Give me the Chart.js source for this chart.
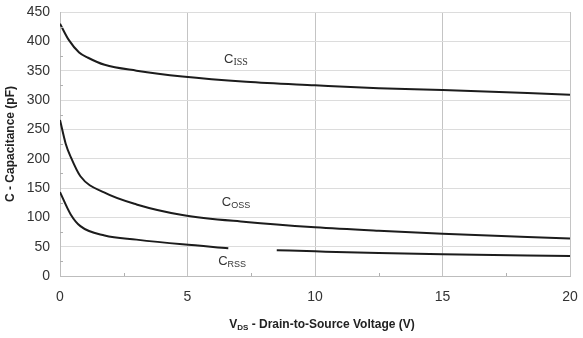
<!DOCTYPE html>
<html>
<head>
<meta charset="utf-8">
<script src="https://cdn.jsdelivr.net/npm/chart.js@4/dist/chart.umd.min.js"></script>
<style>
html,body{margin:0;padding:0;background:#fff;}
#wrap{width:583px;height:338px;position:relative;}
</style>
</head>
<body>
<div id="wrap"><canvas id="c" width="583" height="338"></canvas></div>
<script>
// Data
const cissX = [0, 0.35, 0.75, 1.1, 1.75, 3.0, 4.8, 7.3, 10, 12.5, 15, 20];
const cissY = [430, 402, 381, 372, 360, 350, 340, 331, 325, 320, 317, 309];
const cossX = [0, 0.22, 0.42, 0.8, 1.75, 3.0, 4.8, 7.3, 10, 12.5, 15, 20];
const cossY = [266, 226, 203, 170, 142, 122, 104, 92, 83, 77, 72, 64];
const crssX = [0, 0.42, 0.8, 1.75, 3.0, 4.8, 6.6, 7.5, 8.5, 10, 12.5, 15, 20];
const crssY = [143, 105, 85, 69, 62, 54, 47.5, null, 44, 42, 39, 37, 34];
const xTicks = [0, 5, 10, 15, 20];
const yTicks = [0, 50, 100, 150, 200, 250, 300, 350, 400, 450];
const curveLabels = [
  {main: 'C', sub: 'ISS', x: 6.9, y: 372, subFont: '10px "Liberation Serif"'},
  {main: 'C', sub: 'OSS', x: 6.9, y: 127, subFont: '9px "Liberation Sans"'},
  {main: 'C', sub: 'RSS', x: 6.75, y: 27, subFont: '9px "Liberation Sans"'}
];
const xTitleMain = 'V';
const xTitleSub = 'DS';
const xTitleRest = ' - Drain-to-Source Voltage (V)';
const yTitle = 'C - Capacitance (pF)';

const toPts = (xs, ys) => xs.map((x, i) => ({x: x, y: ys[i]}));

const lineStyle = {
  borderColor: '#1c1c1c', borderWidth: 2, pointRadius: 0,
  fill: false, cubicInterpolationMode: 'monotone', spanGaps: false
};

const overlay = {
  id: 'overlay',
  afterDraw(chart) {
    const ctx = chart.ctx;
    const xs = chart.scales.x, ys = chart.scales.y;
    const a = chart.chartArea;
    ctx.save();
    // minor tick marks inside plot
    ctx.strokeStyle = '#b0b0b0';
    ctx.lineWidth = 1;
    for (let v = 2.5; v < 20; v += 5) {
      const px = Math.round(xs.getPixelForValue(v)) + 0.5;
      ctx.beginPath(); ctx.moveTo(px, a.bottom); ctx.lineTo(px, a.bottom - 3); ctx.stroke();
    }
    for (let v = 25; v < 450; v += 50) {
      const py = Math.round(ys.getPixelForValue(v)) + 0.5;
      ctx.beginPath(); ctx.moveTo(a.left, py); ctx.lineTo(a.left + 3, py); ctx.stroke();
    }
    // curve labels
    ctx.fillStyle = '#333';
    ctx.textBaseline = 'alphabetic';
    curveLabels.forEach(l => {
      ctx.font = '13px "Liberation Sans"';
      const w1 = ctx.measureText(l.main).width;
      ctx.font = l.subFont;
      const w2 = ctx.measureText(l.sub).width;
      const cx = xs.getPixelForValue(l.x), cy = ys.getPixelForValue(l.y);
      const x0 = cx - (w1 + w2) / 2;
      ctx.font = '13px "Liberation Sans"';
      ctx.textAlign = 'left';
      ctx.fillText(l.main, x0, cy + 5);
      ctx.font = l.subFont;
      ctx.fillText(l.sub, x0 + w1, cy + 7);
    });
    // x axis title with subscript
    const fMain = 'bold 12px "Liberation Sans"';
    const fSub = 'bold 8px "Liberation Sans"';
    ctx.font = fMain; const wa = ctx.measureText(xTitleMain).width;
    ctx.font = fSub; const wb = ctx.measureText(xTitleSub).width;
    ctx.font = fMain; const wc = ctx.measureText(xTitleRest).width;
    const tx = (a.left + a.right) / 2 + 7 - (wa + wb + wc) / 2;
    const ty = 328;
    ctx.fillStyle = '#222';
    ctx.font = fMain; ctx.fillText(xTitleMain, tx, ty);
    ctx.font = fSub; ctx.fillText(xTitleSub, tx + wa, ty + 2);
    ctx.font = fMain; ctx.fillText(xTitleRest, tx + wa + wb, ty);
    ctx.restore();
  }
};

new Chart(document.getElementById('c'), {
  type: 'line',
  data: {
    datasets: [
      Object.assign({label: 'Ciss', data: toPts(cissX, cissY)}, lineStyle),
      Object.assign({label: 'Coss', data: toPts(cossX, cossY)}, lineStyle),
      Object.assign({label: 'Crss', data: toPts(crssX, crssY)}, lineStyle)
    ]
  },
  options: {
    responsive: false,
    animation: false,
    layout: {padding: {left: 3, right: 13, top: 12, bottom: 0}},
    plugins: {legend: {display: false}, tooltip: {enabled: false}},
    scales: {
      x: {
        type: 'linear', min: 0, max: 20,
        afterBuildTicks: s => { s.ticks = xTicks.map(v => ({value: v})); },
        afterFit: s => { s.height = 62; s.paddingLeft = 0; s.paddingRight = 0; },
        grid: {color: '#c4c4c4', drawTicks: false},
        border: {color: '#bdbdbd'},
        ticks: {padding: 13, color: '#333', font: {family: 'Liberation Sans', size: 14}}
      },
      y: {
        type: 'linear', min: 0, max: 450,
        afterBuildTicks: s => { s.ticks = yTicks.map(v => ({value: v})); },
        afterFit: s => { s.width = 57; s.paddingTop = 0; s.paddingBottom = 0; },
        grid: {color: '#dcdcdc', drawTicks: false},
        border: {color: '#bdbdbd'},
        ticks: {padding: 10, color: '#333', font: {family: 'Liberation Sans', size: 14}},
        title: {display: true, text: yTitle, color: '#222', padding: {top: 0, bottom: 4},
                font: {family: 'Liberation Sans', size: 12, weight: 'bold'}}
      }
    }
  },
  plugins: [overlay]
});
</script>
</body>
</html>
